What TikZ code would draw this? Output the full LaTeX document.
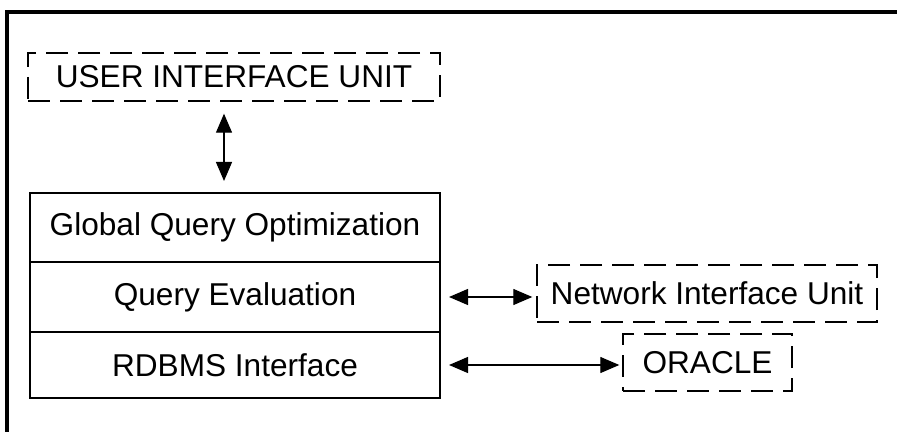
\documentclass[tikz,border=0pt]{standalone}
\usepackage{fontspec}
\setmainfont{Liberation Sans}
\usetikzlibrary{arrows.meta}
\begin{document}
\begin{tikzpicture}[x=0.5pt,y=-0.5pt,
  every node/.style={font=\fontsize{15.8}{18}\selectfont, inner sep=0pt, anchor=center},
  dbox/.style={draw, line width=0.7pt, dash pattern=on 11pt off 5pt},
  layer/.style={draw, line width=1pt, minimum width=205pt},
  link/.style={line width=0.6pt, {Triangle[width=8pt,length=9.5pt]}-{Triangle[width=8pt,length=9.5pt]}}
]
\useasboundingbox (0,0) rectangle (897,432);
\fill[white] (0,0) rectangle (897,432);
\draw[line width=1.6pt] (7,440) -- (7,12) -- (905,12);

\node[dbox, minimum width=206pt, minimum height=24pt] (ui) at (234,77) {USER INTERFACE UNIT};

\node[layer, minimum height=34.5pt] (gqo) at (235,227.5) {Global Query Optimization};
\node[layer, minimum height=35pt] (qe) at (235,297) {Query Evaluation};
\node[layer, minimum height=33pt] (rdbms) at (235,365) {RDBMS Interface};

\node[dbox, minimum width=170pt, minimum height=28.5pt] (niu) at (707,293.5) {Network Interface Unit};
\node[dbox, minimum width=84.5pt, minimum height=28.5pt] (oracle) at (707.5,362.5) {ORACLE};

\coordinate (ax) at (224,0);
\draw[link, shorten <=6pt, shorten >=5.5pt] (ui.south -| ax) -- (gqo.north -| ax);
\draw[link, shorten <=4pt, shorten >=2pt] (qe.east) -- (qe.east -| niu.west);
\draw[link, shorten <=4pt, shorten >=1.5pt] (rdbms.east) -- (rdbms.east -| oracle.west);
\end{tikzpicture}
\end{document}
